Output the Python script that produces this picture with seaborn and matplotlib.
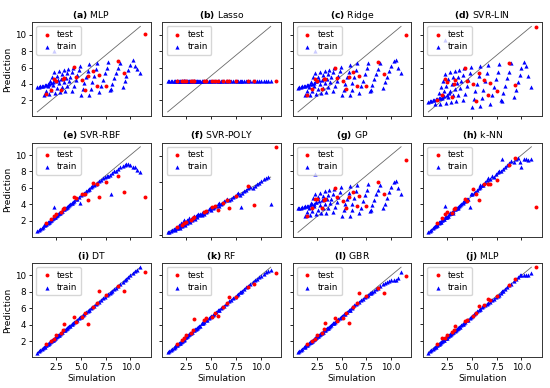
import matplotlib
matplotlib.use("Agg")
import matplotlib.pyplot as plt
import seaborn as sns
from matplotlib.ticker import MultipleLocator


# ==========================================
# DATA
# ==========================================

train_x = [
    0.6, 0.75, 0.9, 1.05, 1.2, 1.35, 1.5, 1.65, 1.8, 2.0, 2.2, 2.45, 2.7,
    1.3, 1.5, 1.7, 1.9, 2.1, 2.3,
    1.8, 2.0, 2.2, 2.4, 2.6, 2.8,
    2.4, 2.6, 2.8, 3.0, 3.1, 3.3,
    2.9, 3.1, 3.3, 3.5, 3.6, 3.7,
    3.4, 3.6, 3.8, 3.9, 4.1, 4.2,
    4.1, 4.3, 4.5, 4.6, 4.8, 4.9,
    5.0, 5.2, 5.3, 5.5, 5.7, 5.8,
    5.8, 6.0, 6.1, 6.3, 6.5, 6.6,
    6.8, 7.0, 7.2, 7.4, 7.6, 7.7,
    7.9, 8.1, 8.3, 8.5, 8.7, 8.9,
    9.2, 9.4, 9.6, 9.8, 10.0, 10.3,
    2.3, 8.0, 10.5, 10.7, 11.0,
]

test_x = [1.5, 2.0, 2.3, 2.5, 3.0, 3.2, 3.3, 4.3, 4.5, 5.1,
          5.4, 5.7, 6.2, 6.6, 6.8, 7.5, 8.7, 9.3, 11.5]

mlp_a_train = [
    3.6, 3.65, 3.7, 3.75, 3.8, 3.85, 3.9, 3.95, 4.0, 4.1, 4.2, 4.35, 4.5,
    2.7, 3.2, 3.7, 4.3, 4.9, 5.5,
    2.8, 3.3, 3.9, 4.5, 5.0, 5.6,
    2.9, 3.5, 4.1, 4.6, 5.2, 5.7,
    3.0, 3.6, 4.2, 4.7, 5.3, 5.8,
    3.1, 3.7, 4.3, 4.9, 5.5, 6.0,
    3.2, 3.8, 4.5, 5.1, 5.7, 6.2,
    2.7, 3.4, 4.1, 4.9, 5.6, 6.4,
    2.6, 3.4, 4.2, 5.0, 5.8, 6.5,
    3.0, 3.8, 4.5, 5.3, 6.0, 6.7,
    3.3, 4.0, 4.7, 5.3, 5.9, 6.5,
    3.6, 4.3, 5.0, 5.7, 6.3, 6.9,
    8.0, 3.4, 6.2, 5.8, 5.3,
]
mlp_a_test = [2.8, 3.3, 4.6, 4.4, 3.3, 4.6, 4.7, 6.1, 4.8, 4.5,
              3.3, 5.0, 5.6, 3.7, 5.1, 3.7, 6.8, 5.3, 10.1]

lasso_train = [4.3] * len(train_x)
lasso_test = [4.3] * len(test_x)

ridge_train = [
    3.55, 3.6, 3.65, 3.7, 3.75, 3.8, 3.85, 3.9, 3.95, 4.05, 4.15, 4.3, 4.45,
    2.6, 3.1, 3.6, 4.2, 4.8, 5.3,
    2.7, 3.2, 3.8, 4.4, 4.9, 5.4,
    2.8, 3.4, 4.0, 4.5, 5.1, 5.6,
    2.9, 3.5, 4.1, 4.6, 5.2, 5.7,
    3.0, 3.6, 4.2, 4.8, 5.4, 5.9,
    3.1, 3.7, 4.4, 5.0, 5.6, 6.1,
    2.6, 3.3, 4.0, 4.8, 5.5, 6.3,
    2.6, 3.3, 4.1, 4.9, 5.7, 6.5,
    2.9, 3.7, 4.4, 5.2, 5.9, 6.6,
    3.2, 3.9, 4.6, 5.2, 5.8, 6.5,
    3.5, 4.2, 4.9, 5.6, 6.2, 6.8,
    8.0, 3.3, 6.9, 6.0, 5.3,
]
ridge_test = [2.6, 3.4, 4.6, 4.3, 3.4, 4.6, 4.6, 5.9, 4.7, 4.3,
              3.4, 4.8, 5.5, 3.7, 5.0, 3.7, 6.7, 5.2, 9.9]

svr_lin_train = [
    1.85, 1.9, 1.95, 2.0, 2.1, 2.15, 2.2, 2.3, 2.35, 2.45, 2.55, 2.7, 2.85,
    1.5, 2.2, 2.9, 3.6, 4.4, 5.2,
    1.6, 2.3, 3.1, 3.8, 4.6, 5.4,
    1.7, 2.4, 3.2, 4.0, 4.8, 5.6,
    1.8, 2.6, 3.4, 4.1, 4.9, 5.7,
    1.9, 2.7, 3.5, 4.3, 5.1, 5.9,
    2.0, 2.8, 3.7, 4.5, 5.3, 6.1,
    1.2, 2.2, 3.1, 4.0, 5.0, 6.2,
    1.3, 2.3, 3.3, 4.3, 5.3, 6.3,
    1.6, 2.6, 3.6, 4.6, 5.5, 6.4,
    2.0, 2.9, 3.8, 4.7, 5.5, 6.5,
    2.4, 3.3, 4.2, 5.1, 5.9, 6.7,
    9.3, 1.9, 6.2, 5.0, 3.6,
]
svr_lin_test = [2.0, 2.6, 4.6, 4.2, 2.4, 4.0, 4.5, 5.9, 4.4, 4.0,
                1.9, 5.3, 4.5, 2.6, 4.1, 3.1, 6.5, 3.9, 10.9]

svr_rbf_train = [
    0.75, 0.9, 1.0, 1.15, 1.3, 1.45, 1.6, 1.75, 1.9, 2.1, 2.3, 2.55, 2.8,
    1.45, 1.6, 1.85, 2.0, 2.2, 2.4,
    1.9, 2.1, 2.3, 2.5, 2.7, 2.9,
    2.5, 2.7, 2.9, 3.1, 3.2, 3.4,
    3.0, 3.2, 3.4, 3.6, 3.7, 3.8,
    3.5, 3.7, 3.9, 4.0, 4.2, 4.3,
    4.2, 4.4, 4.6, 4.7, 4.9, 4.2,
    5.1, 5.3, 5.4, 5.6, 5.8, 5.9,
    5.9, 6.1, 6.2, 6.4, 6.5, 6.6,
    6.8, 7.0, 7.2, 7.3, 7.4, 7.5,
    7.6, 7.8, 8.0, 8.1, 8.3, 8.6,
    8.7, 8.8, 8.9, 8.9, 8.8, 8.6,
    3.65, 5.2, 8.5, 8.2, 7.9,
]
svr_rbf_test = [1.7, 2.2, 2.6, 2.8, 3.1, 3.4, 3.5, 4.85, 4.8, 5.3,
                5.2, 4.55, 6.65, 6.5, 4.95, 6.7, 7.4, 5.55, 4.95]

svr_poly_train = [
    0.6, 0.7, 0.85, 1.0, 1.15, 1.3, 1.45, 1.6, 1.8, 2.0, 2.2, 2.5, 2.7,
    1.0, 1.5, 2.0, 2.4, 2.6, 2.9,
    1.4, 1.8, 2.3, 2.6, 2.9, 3.2,
    2.0, 2.4, 2.8, 3.1, 3.3, 3.6,
    2.6, 2.9, 3.3, 3.6, 3.8, 4.0,
    3.1, 3.4, 3.8, 4.0, 4.3, 4.5,
    3.8, 4.1, 4.5, 4.7, 5.0, 5.2,
    4.8, 5.1, 5.3, 5.6, 5.9, 6.1,
    5.6, 5.9, 6.1, 6.4, 6.7, 6.9,
    6.6, 6.9, 7.2, 7.5, 7.8, 8.0,
    7.7, 8.0, 8.3, 8.6, 8.9, 9.2,
    9.0, 9.3, 9.6, 9.9, 10.2, 10.6,
    2.8, 5.4, 10.8, 11.0, 6.0,
]
svr_poly_test = [1.6, 2.0, 2.3, 2.6, 3.0, 3.3, 3.5, 4.4, 4.6, 5.3,
                 5.5, 4.8, 6.2, 6.6, 5.1, 7.4, 9.4, 5.7, 16.7]

gp_train = [
    3.5, 3.55, 3.6, 3.65, 3.7, 3.75, 3.8, 3.85, 3.9, 4.0, 4.1, 4.25, 4.4,
    2.6, 3.1, 3.6, 4.2, 4.8, 5.3,
    2.7, 3.2, 3.8, 4.3, 4.9, 5.4,
    2.8, 3.3, 3.9, 4.5, 5.0, 5.6,
    2.9, 3.5, 4.0, 4.6, 5.1, 5.7,
    3.0, 3.6, 4.2, 4.7, 5.3, 5.9,
    3.1, 3.7, 4.3, 4.9, 5.5, 6.1,
    2.6, 3.3, 4.0, 4.7, 5.4, 6.2,
    2.6, 3.3, 4.0, 4.8, 5.6, 6.4,
    2.9, 3.6, 4.4, 5.1, 5.8, 6.5,
    3.2, 3.9, 4.5, 5.2, 5.8, 6.4,
    3.5, 4.1, 4.8, 5.5, 6.1, 6.7,
    7.7, 3.3, 6.8, 6.0, 5.2,
]
gp_test = [2.6, 3.5, 4.7, 4.6, 3.5, 4.5, 4.6, 6.0, 4.85, 4.45,
           3.5, 4.95, 5.5, 3.8, 5.0, 3.8, 6.7, 5.2, 9.4]

knn_train = [
    0.65, 0.8, 0.9, 1.1, 1.2, 1.4, 1.5, 1.7, 1.8, 2.1, 2.2, 2.5, 2.8,
    1.4, 1.5, 1.8, 1.9, 2.2, 2.4,
    1.8, 2.1, 2.2, 2.5, 2.6, 2.9,
    2.5, 2.6, 2.9, 3.1, 3.0, 3.4,
    2.9, 3.2, 3.4, 3.5, 3.7, 3.8,
    3.5, 3.6, 3.9, 4.0, 4.2, 4.4,
    4.3, 4.4, 4.7, 4.6, 3.7, 5.2,
    5.2, 5.4, 5.5, 5.8, 6.0, 6.3,
    6.1, 6.4, 6.3, 6.7, 6.9, 7.2,
    7.1, 7.4, 7.3, 7.7, 7.9, 8.0,
    8.0, 8.3, 8.6, 8.8, 9.0, 9.3,
    9.1, 9.5, 9.6, 9.1, 8.6, 9.5,
    3.8, 9.5, 9.5, 9.4, 9.5,
]
knn_test = [1.7, 2.3, 2.8, 3.1, 3.0, 3.4, 3.6, 4.6, 4.4, 5.9,
            5.3, 4.5, 6.5, 6.5, 6.5, 7.0, 8.8, 9.6, 3.7]

dt_train = [
    0.6, 0.75, 0.9, 1.05, 1.2, 1.35, 1.5, 1.65, 1.8, 2.0, 2.2, 2.45, 2.7,
    1.3, 1.5, 1.7, 1.9, 2.1, 2.3,
    1.8, 2.0, 2.2, 2.4, 2.6, 2.8,
    2.4, 2.6, 2.8, 3.0, 3.1, 3.3,
    2.9, 3.1, 3.3, 3.5, 3.6, 3.7,
    3.4, 3.6, 3.8, 3.9, 4.1, 4.2,
    4.1, 4.3, 4.5, 4.6, 4.8, 4.9,
    5.0, 5.2, 5.3, 5.5, 5.7, 5.8,
    5.8, 6.0, 6.1, 6.3, 6.5, 6.6,
    6.8, 7.0, 7.2, 7.4, 7.6, 7.7,
    7.9, 8.1, 8.3, 8.5, 8.7, 8.9,
    9.2, 9.4, 9.6, 9.8, 10.0, 10.3,
    2.3, 8.0, 10.5, 10.7, 11.0,
]
dt_test = [1.6, 2.0, 2.3, 2.8, 3.0, 3.4, 4.1, 4.9, 4.3, 4.9,
           5.4, 4.1, 6.2, 6.6, 8.1, 7.6, 8.7, 8.1, 10.4]

rf_train = [
    0.65, 0.75, 0.9, 1.1, 1.2, 1.4, 1.5, 1.7, 1.8, 2.0, 2.25, 2.5, 2.7,
    1.35, 1.5, 1.75, 1.9, 2.15, 2.3,
    1.8, 2.05, 2.2, 2.45, 2.6, 2.85,
    2.45, 2.6, 2.85, 3.0, 3.15, 3.3,
    2.95, 3.1, 3.35, 3.5, 3.65, 3.7,
    3.45, 3.6, 3.85, 3.9, 4.15, 4.2,
    4.15, 4.3, 4.55, 4.6, 4.85, 4.9,
    5.05, 5.2, 5.35, 5.5, 5.75, 5.8,
    5.85, 6.0, 6.15, 6.3, 6.55, 6.6,
    6.85, 7.0, 7.25, 7.4, 7.6, 7.75,
    7.95, 8.1, 8.3, 8.55, 8.7, 8.9,
    9.2, 9.4, 9.55, 9.8, 9.95, 10.2,
    2.4, 8.0, 10.4, 10.5, 10.6,
]
rf_test = [1.6, 2.1, 2.4, 2.7, 3.0, 3.4, 4.7, 4.6, 4.8, 5.0,
           5.4, 5.1, 6.2, 6.6, 7.4, 7.4, 8.6, 8.9, 10.3]

gbr_train = [
    0.65, 0.8, 0.95, 1.1, 1.25, 1.4, 1.55, 1.7, 1.85, 2.05, 2.25, 2.5, 2.75,
    1.35, 1.55, 1.75, 1.95, 2.15, 2.35,
    1.85, 2.05, 2.25, 2.45, 2.65, 2.85,
    2.45, 2.65, 2.85, 3.05, 3.15, 3.35,
    2.95, 3.15, 3.35, 3.55, 3.65, 3.75,
    3.45, 3.65, 3.85, 3.95, 4.15, 4.25,
    4.15, 4.35, 4.55, 4.65, 4.85, 4.95,
    5.05, 5.25, 5.35, 5.55, 5.75, 5.85,
    5.85, 6.05, 6.15, 6.35, 6.5, 6.6,
    6.8, 7.0, 7.15, 7.35, 7.5, 7.6,
    7.8, 7.95, 8.15, 8.3, 8.5, 8.65,
    8.9, 9.05, 9.2, 9.3, 9.4, 9.5,
    2.35, 7.85, 9.5, 9.7, 10.4,
]
gbr_test = [1.7, 2.0, 2.3, 2.8, 3.0, 3.5, 4.2, 4.8, 4.4, 4.8,
            5.4, 4.2, 6.2, 6.6, 7.9, 7.5, 8.5, 7.9, 9.9]

mlp_j_train = [
    0.55, 0.7, 0.85, 1.0, 1.15, 1.3, 1.45, 1.6, 1.75, 1.95, 2.15, 2.4, 2.7,
    1.25, 1.45, 1.65, 1.85, 2.05, 2.3,
    1.75, 1.95, 2.15, 2.35, 2.55, 2.8,
    2.35, 2.55, 2.75, 2.95, 3.1, 3.3,
    2.85, 3.05, 3.25, 3.45, 3.6, 3.7,
    3.35, 3.55, 3.75, 3.9, 4.1, 4.2,
    4.1, 4.3, 4.5, 4.6, 4.8, 4.95,
    5.05, 5.25, 5.35, 5.6, 5.8, 5.9,
    5.9, 6.1, 6.2, 6.35, 6.5, 6.6,
    6.8, 7.0, 7.15, 7.3, 7.45, 7.6,
    7.85, 8.1, 8.35, 8.6, 8.8, 8.95,
    9.3, 9.55, 9.8, 10.0, 10.0, 10.0,
    2.4, 8.05, 10.0, 10.1, 10.3,
]
mlp_j_test = [1.6, 2.3, 2.4, 2.7, 3.1, 3.3, 3.8, 4.4, 4.6, 5.0,
              5.4, 6.3, 6.35, 7.1, 7.0, 7.5, 8.8, 9.5, 11.0]

panel_tags = ["(a)", "(b)", "(c)", "(d)", "(e)", "(f)",
              "(g)", "(h)", "(i)", "(k)", "(l)", "(j)"]
panel_names = ["MLP", "Lasso", "Ridge", "SVR-LIN", "SVR-RBF", "SVR-POLY",
               "GP", "k-NN", "DT", "RF", "GBR", "MLP"]

train_preds = [mlp_a_train, lasso_train, ridge_train, svr_lin_train,
               svr_rbf_train, svr_poly_train, gp_train, knn_train,
               dt_train, rf_train, gbr_train, mlp_j_train]
test_preds = [mlp_a_test, lasso_test, ridge_test, svr_lin_test,
              svr_rbf_test, svr_poly_test, gp_test, knn_test,
              dt_test, rf_test, gbr_test, mlp_j_test]


# ==========================================
# FIGURE
# ==========================================

fs = 6.3

fig, axes = plt.subplots(3, 4, figsize=(5.5, 3.88), dpi=100, sharex=True)

fig.subplots_adjust(left=0.058, right=0.985, top=0.943, bottom=0.080,
                    wspace=0.097, hspace=0.28)

diag = [min(train_x), max(train_x)]

for i, ax in enumerate(axes.flat):

    sns.lineplot(x=diag, y=diag, color="dimgray", linewidth=0.6, ax=ax)

    sns.scatterplot(x=test_x, y=test_preds[i], color="red", marker="o",
                    s=8, linewidth=0, label="test", zorder=3, ax=ax)

    sns.scatterplot(x=train_x, y=train_preds[i], color="blue", marker="^",
                    s=9, linewidth=0, label="train", zorder=2, ax=ax)

    ax.set_title(r"$\mathbf{" + panel_tags[i] + "}$ " + panel_names[i],
                 fontsize=fs + 0.4, pad=3)

    ax.legend(loc="upper left", fontsize=fs, handletextpad=0.4,
              borderpad=0.4, labelspacing=0.35, handlelength=1.6)

    ax.xaxis.set_major_locator(MultipleLocator(2.5))

    if panel_names[i] == "SVR-POLY":
        ax.yaxis.set_major_locator(MultipleLocator(5))
    else:
        ax.yaxis.set_major_locator(MultipleLocator(2))

    ax.tick_params(labelsize=fs, length=2.5, width=0.6, pad=1.5)

    row, col = divmod(i, 4)

    if col == 0:
        ax.set_ylabel("Prediction", fontsize=fs + 0.2, labelpad=2)
    else:
        ax.set_ylabel("")
        ax.tick_params(labelleft=False)

    if row == 2:
        ax.set_xlabel("Simulation", fontsize=fs + 0.2, labelpad=1.5)

    for spine in ax.spines.values():
        spine.set_linewidth(0.7)
        spine.set_color("#333333")

plt.savefig("out.png", dpi=100)
plt.close()
